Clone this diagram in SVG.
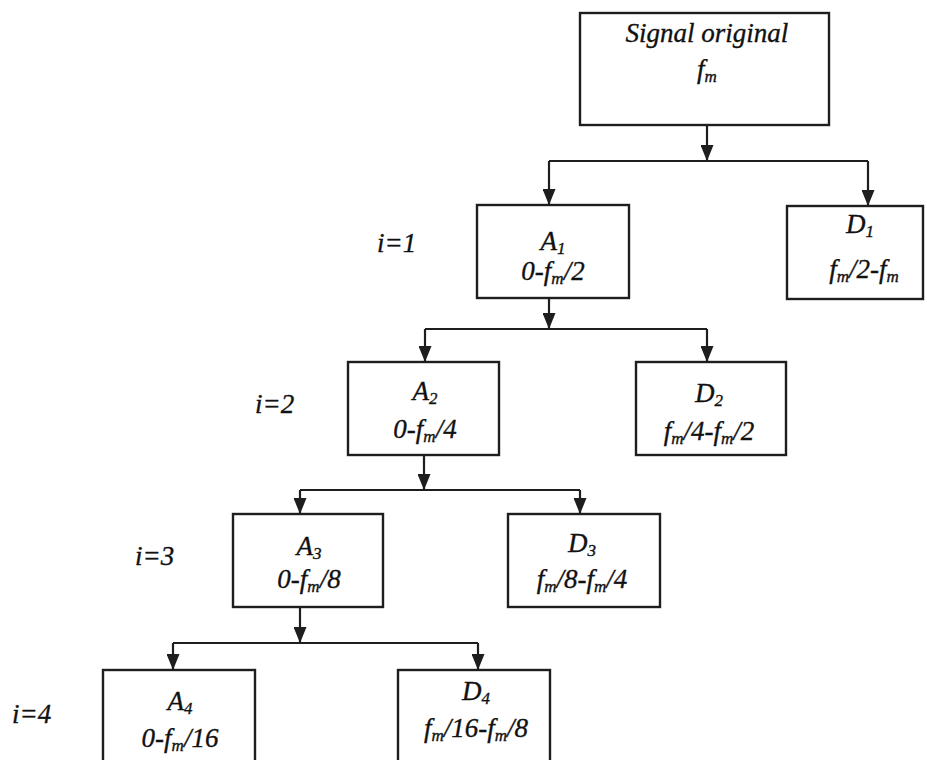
<svg xmlns="http://www.w3.org/2000/svg" width="927" height="760" viewBox="0 0 927 760">
<style>
.box{fill:#fff;stroke:#1e1e1e;stroke-width:2.4}
.t{font-family:"Liberation Serif","DejaVu Serif",serif;font-style:italic;font-size:27px;fill:#111;stroke:#111;stroke-width:0.35;text-anchor:middle}
.lbl{font-family:"Liberation Serif","DejaVu Serif",serif;font-style:italic;font-size:27px;fill:#111;stroke:#111;stroke-width:0.35}
.s{font-size:17px}
.c{fill:none;stroke:#1e1e1e;stroke-width:2.2}
</style>
<defs>
<marker id="ah" viewBox="0 0 16 13" refX="16" refY="6.5" markerWidth="16" markerHeight="13" markerUnits="userSpaceOnUse" orient="auto">
<path d="M0,0 L16,6.5 L0,13 z" fill="#1e1e1e"/>
</marker>
</defs>
<rect width="927" height="760" fill="#fff"/>
<g id="connectors">
<path class="c" d="M707,125 V161" marker-end="url(#ah)"/>
<path class="c" d="M549,161 H868"/>
<path class="c" d="M549,161 V205" marker-end="url(#ah)"/>
<path class="c" d="M868,161 V206" marker-end="url(#ah)"/>
<path class="c" d="M549,298 V329" marker-end="url(#ah)"/>
<path class="c" d="M425,329 H707"/>
<path class="c" d="M425,329 V362" marker-end="url(#ah)"/>
<path class="c" d="M707,329 V362" marker-end="url(#ah)"/>
<path class="c" d="M424,455 V490" marker-end="url(#ah)"/>
<path class="c" d="M300,490 H580"/>
<path class="c" d="M300,490 V514" marker-end="url(#ah)"/>
<path class="c" d="M580,490 V514" marker-end="url(#ah)"/>
<path class="c" d="M300,607 V643" marker-end="url(#ah)"/>
<path class="c" d="M173,643 H478"/>
<path class="c" d="M173,643 V670" marker-end="url(#ah)"/>
<path class="c" d="M478,643 V670" marker-end="url(#ah)"/>
</g>
<g id="signal">
<rect class="box" x="580" y="13" width="249" height="112"/>
<text class="t" x="707" y="42">Signal original</text>
<text class="t" x="707" y="78">f<tspan class="s" dy="4">m</tspan></text>
</g>
<g id="A1">
<rect class="box" x="477" y="205" width="152" height="93"/>
<text class="t" x="553" y="250">A<tspan class="s" dy="4">1</tspan></text>
<text class="t" x="553" y="280">0-f<tspan class="s" dy="4">m</tspan><tspan dy="-4">/2</tspan></text>
</g>
<g id="D1">
<rect class="box" x="787" y="206" width="136" height="93"/>
<text class="t" x="860" y="233">D<tspan class="s" dy="4">1</tspan></text>
<text class="t" x="864" y="278">f<tspan class="s" dy="4">m</tspan><tspan dy="-4">/2-f</tspan><tspan class="s" dy="4">m</tspan></text>
</g>
<g id="A2">
<rect class="box" x="348" y="362" width="151" height="93"/>
<text class="t" x="425" y="400">A<tspan class="s" dy="4">2</tspan></text>
<text class="t" x="425" y="438">0-f<tspan class="s" dy="4">m</tspan><tspan dy="-4">/4</tspan></text>
</g>
<g id="D2">
<rect class="box" x="636" y="362" width="150" height="93"/>
<text class="t" x="709" y="402">D<tspan class="s" dy="4">2</tspan></text>
<text class="t" x="709" y="440">f<tspan class="s" dy="4">m</tspan><tspan dy="-4">/4-f</tspan><tspan class="s" dy="4">m</tspan><tspan dy="-4">/2</tspan></text>
</g>
<g id="A3">
<rect class="box" x="233" y="514" width="150" height="93"/>
<text class="t" x="309" y="555">A<tspan class="s" dy="4">3</tspan></text>
<text class="t" x="309" y="588">0-f<tspan class="s" dy="4">m</tspan><tspan dy="-4">/8</tspan></text>
</g>
<g id="D3">
<rect class="box" x="508" y="514" width="152" height="93"/>
<text class="t" x="582" y="552">D<tspan class="s" dy="4">3</tspan></text>
<text class="t" x="582" y="588">f<tspan class="s" dy="4">m</tspan><tspan dy="-4">/8-f</tspan><tspan class="s" dy="4">m</tspan><tspan dy="-4">/4</tspan></text>
</g>
<g id="A4">
<rect class="box" x="103" y="670" width="152" height="100"/>
<text class="t" x="180" y="710">A<tspan class="s" dy="4">4</tspan></text>
<text class="t" x="180" y="747">0-f<tspan class="s" dy="4">m</tspan><tspan dy="-4">/16</tspan></text>
</g>
<g id="D4">
<rect class="box" x="398" y="670" width="152" height="100"/>
<text class="t" x="476" y="700">D<tspan class="s" dy="4">4</tspan></text>
<text class="t" x="476" y="737">f<tspan class="s" dy="4">m</tspan><tspan dy="-4">/16-f</tspan><tspan class="s" dy="4">m</tspan><tspan dy="-4">/8</tspan></text>
</g>
<g id="levels">
<text class="lbl" x="377" y="252">i=1</text>
<text class="lbl" x="255" y="413">i=2</text>
<text class="lbl" x="135" y="565">i=3</text>
<text class="lbl" x="12" y="723">i=4</text>
</g>
</svg>
